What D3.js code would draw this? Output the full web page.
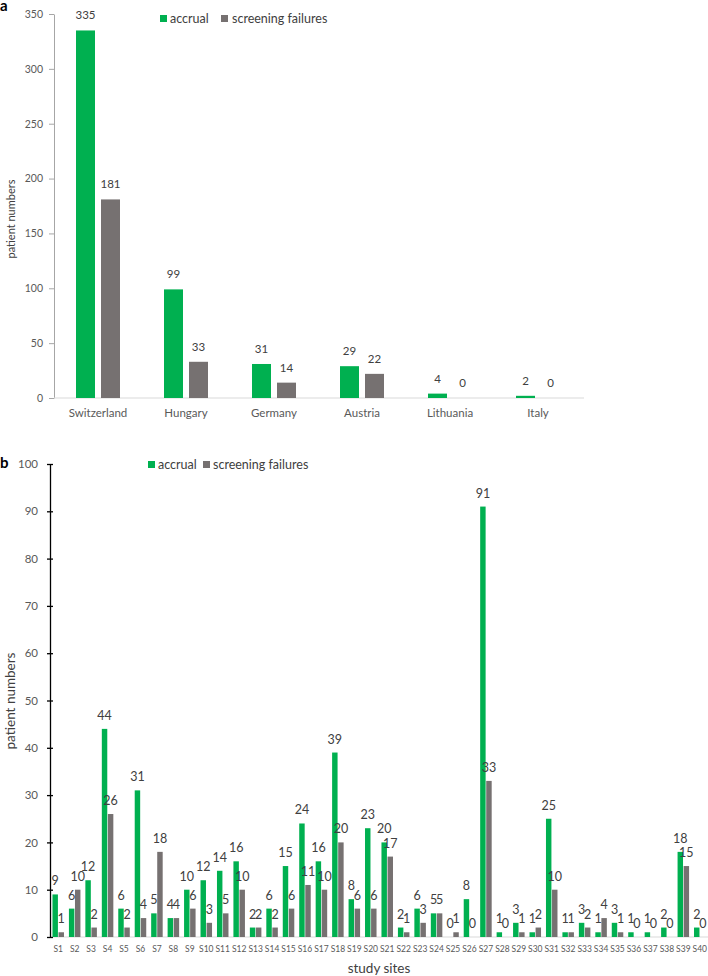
<!DOCTYPE html>
<html lang="en">
<head>
<meta charset="UTF-8">
<title>accrual</title>
<script src="https://cdn.jsdelivr.net/npm/d3@7"></script>
<style>
  body { margin: 0; background: #fff; font-family: Lato, 'Open Sans', sans-serif; }
  svg text { font-family: Lato, 'Open Sans', sans-serif; }
</style>
</head>
<body>
<div id="chart"></div>
<script>
// panel a: countries
var countries = ["Switzerland", "Hungary", "Germany", "Austria", "Lithuania", "Italy"];
var countryAccrual = [335, 99, 31, 29, 4, 2];
var countryFailures = [181, 33, 14, 22, 0, 0];
var ticksA = [0, 50, 100, 150, 200, 250, 300, 350];

// panel b: study sites
var sites = d3.range(1, 41).map(function(i) { return "S" + i; });
var siteAccrual = [9, 6, 12, 44, 6, 31, 5, 4, 10, 12, 14, 16, 2, 6, 15, 24, 16, 39, 8, 23,
                   20, 2, 6, 5, 0, 8, 91, 1, 3, 1, 25, 1, 3, 1, 3, 1, 1, 2, 18, 2];
var siteFailures = [1, 10, 2, 26, 2, 4, 18, 4, 6, 3, 5, 10, 2, 2, 6, 11, 10, 20, 6, 6,
                    17, 1, 3, 5, 1, 0, 33, 0, 1, 2, 10, 1, 2, 4, 1, 0, 0, 0, 15, 0];
var ticksB = [0, 10, 20, 30, 40, 50, 60, 70, 80, 90, 100];

var series = ["accrual", "screening failures"];
var colors = {"accrual": "#00b050", "screening failures": "#767171"};

var w = 708, h = 976;
var svg = d3.select("#chart").append("svg")
    .attr("width", w).attr("height", h);

function rows(cats, a, f) {
  return cats.map(function(c, i) { return {cat: c, values: [{s: series[0], v: a[i]}, {s: series[1], v: f[i]}]}; });
}

// ---------- panel a ----------
var xa = d3.scaleBand().domain(countries).range([54, 582]).paddingInner(0.5).paddingOuter(0.25);
var xa1 = d3.scaleBand().domain(series).range([0, xa.bandwidth()]).paddingInner(0.24);
var ya = d3.scaleLinear().domain([0, 350]).range([398, 14]);

var gA = svg.append("g");
var axA = gA.append("g").attr("transform", "translate(54,0)")
    .call(d3.axisLeft(ya).tickValues(ticksA).tickSize(5).tickSizeOuter(0).tickPadding(6));
axA.select(".domain").attr("stroke", "#a6a6a6");
axA.selectAll(".tick line").attr("stroke", "#a6a6a6");
axA.selectAll("text").attr("fill", "#595959").style("font-size", "10.5px");

var axAx = gA.append("g").attr("transform", "translate(0,398)")
    .call(d3.axisBottom(xa).tickSize(0).tickPadding(11));
axAx.select(".domain").attr("stroke", "#d9d9d9").attr("d", "M54,0H584");
axAx.selectAll("text").attr("fill", "#595959").style("font-size", "11.5px");

var grpA = gA.selectAll(".grp").data(rows(countries, countryAccrual, countryFailures)).enter()
    .append("g").attr("transform", function(d) { return "translate(" + xa(d.cat) + ",0)"; });
grpA.selectAll("rect").data(function(d) { return d.values; }).enter().append("rect")
    .attr("x", function(d) { return xa1(d.s); })
    .attr("width", xa1.bandwidth())
    .attr("y", function(d) { return ya(d.v); })
    .attr("height", function(d) { return ya(0) - ya(d.v); })
    .attr("fill", function(d) { return colors[d.s]; });
grpA.selectAll("text").data(function(d) { return d.values; }).enter().append("text")
    .attr("x", function(d) { return xa1(d.s) + xa1.bandwidth() / 2; })
    .attr("y", function(d) { return ya(d.v) - 11; })
    .attr("text-anchor", "middle")
    .attr("fill", "#404040").style("font-size", "11.5px")
    .text(function(d) { return d.v; });

gA.append("text").attr("transform", "translate(15,219) rotate(-90)")
    .attr("text-anchor", "middle").attr("fill", "#404040").style("font-size", "11px")
    .text("patient numbers");
gA.append("text").attr("x", 0).attr("y", 11).style("font-size", "15px").style("font-weight", "bold")
    .text("a");

var legA = gA.append("g").attr("transform", "translate(160,0)");
legA.append("rect").attr("x", 0).attr("y", 15).attr("width", 7).attr("height", 7).attr("fill", colors["accrual"]);
legA.append("text").attr("x", 10).attr("y", 23).attr("fill", "#404040").style("font-size", "12.5px").text("accrual");
legA.append("rect").attr("x", 61).attr("y", 15).attr("width", 7).attr("height", 7).attr("fill", colors["screening failures"]);
legA.append("text").attr("x", 72).attr("y", 23).attr("fill", "#404040").style("font-size", "12.5px").text("screening failures");

// ---------- panel b ----------
var xb = d3.scaleBand().domain(sites).range([50, 708]).paddingInner(0.3).paddingOuter(0.15);
var xb1 = d3.scaleBand().domain(series).range([0, xb.bandwidth()]).paddingInner(0.1);
var yb = d3.scaleLinear().domain([0, 100]).range([937, 464]);

var gB = svg.append("g");
var axBx = gB.append("g").attr("transform", "translate(0,937)")
    .call(d3.axisBottom(xb).tickSize(0).tickPadding(9));
axBx.select(".domain").attr("stroke", "#d9d9d9").attr("d", "M50,0H708");
axBx.selectAll("text").attr("fill", "#595959").style("font-size", "8.5px");

var axB = gB.append("g").attr("transform", "translate(50,0)")
    .call(d3.axisLeft(yb).tickValues(ticksB).tickSize(3).tickSizeOuter(0).tickPadding(9));
axB.select(".domain").attr("stroke", "#000").attr("stroke-width", 1.3);
axB.selectAll(".tick line").attr("stroke", "#000").attr("x2", 3).attr("x1", -3).attr("stroke-width", 1.3);
axB.selectAll("text").attr("fill", "#595959").style("font-size", "11.5px");

var grpB = gB.selectAll(".grp").data(rows(sites, siteAccrual, siteFailures)).enter()
    .append("g").attr("transform", function(d) { return "translate(" + xb(d.cat) + ",0)"; });
grpB.selectAll("rect").data(function(d) { return d.values; }).enter().append("rect")
    .attr("x", function(d) { return xb1(d.s); })
    .attr("width", xb1.bandwidth())
    .attr("y", function(d) { return yb(d.v); })
    .attr("height", function(d) { return yb(0) - yb(d.v); })
    .attr("fill", function(d) { return colors[d.s]; });
grpB.selectAll("text").data(function(d) { return d.values; }).enter().append("text")
    .attr("x", function(d) { return xb1(d.s) + xb1.bandwidth() / 2; })
    .attr("y", function(d) { return yb(d.v) - 9; })
    .attr("text-anchor", "middle")
    .attr("fill", "#404040").style("font-size", "12.5px")
    .text(function(d) { return d.v; });

gB.append("text").attr("transform", "translate(15,701) rotate(-90)")
    .attr("text-anchor", "middle").attr("fill", "#404040").style("font-size", "13.5px")
    .text("patient numbers");
gB.append("text").attr("x", 379).attr("y", 973)
    .attr("text-anchor", "middle").attr("fill", "#404040").style("font-size", "13.5px")
    .text("study sites");
gB.append("text").attr("x", 0).attr("y", 468).style("font-size", "15px").style("font-weight", "bold")
    .text("b");

var legB = gB.append("g").attr("transform", "translate(148,0)");
legB.append("rect").attr("x", 0).attr("y", 461).attr("width", 7).attr("height", 7).attr("fill", colors["accrual"]);
legB.append("text").attr("x", 10).attr("y", 469).attr("fill", "#404040").style("font-size", "12.5px").text("accrual");
legB.append("rect").attr("x", 55).attr("y", 461).attr("width", 7).attr("height", 7).attr("fill", colors["screening failures"]);
legB.append("text").attr("x", 65).attr("y", 469).attr("fill", "#404040").style("font-size", "12.5px").text("screening failures");
</script>
</body>
</html>
